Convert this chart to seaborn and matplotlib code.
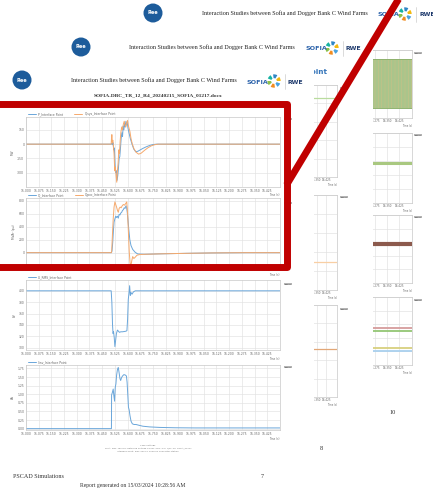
import numpy as np
import pandas as pd
import matplotlib
matplotlib.use("Agg")
import matplotlib.pyplot as plt
import matplotlib.patches as mpatches
from matplotlib.lines import Line2D
import seaborn as sns

# ---------------- data ----------------
xtick_labels = ["15.000", "15.075", "15.150", "15.225", "15.300", "15.375", "15.450",
                "15.525", "15.600", "15.675", "15.750", "15.825", "15.900", "15.975",
                "16.050", "16.125", "16.200", "16.275", "16.350", "16.425"]

# Panel 1: active / reactive power
p_t = [15.000, 15.503, 15.506, 15.510, 15.514, 15.518, 15.522, 15.526, 15.530, 15.534,
       15.538, 15.542, 15.546, 15.550, 15.554, 15.558, 15.562, 15.566, 15.570, 15.574,
       15.578, 15.582, 15.586, 15.590, 15.594, 15.598, 15.602, 15.608, 15.616, 15.626,
       15.636, 15.648, 15.660, 15.675, 15.690, 15.710, 15.730, 15.750, 15.770, 16.500]
p_v = [0, 0, 10, -5, 15, -60, -40, -220, -300, -280,
       -380, -330, -250, -150, -130, -40, 60, 120, 80, 190,
       150, 220, 180, 240, 200, 230, 170, 120, 60, 0,
       -50, -80, -75, -60, -45, -28, -14, -4, 0, 0]
qs_t = [15.000, 15.503, 15.505, 15.507, 15.510, 15.513, 15.516, 15.520, 15.524, 15.528,
        15.532, 15.536, 15.540, 15.544, 15.548, 15.552, 15.556, 15.560, 15.565, 15.570,
        15.575, 15.580, 15.585, 15.590, 15.595, 15.600, 15.604, 15.608, 15.614, 15.620,
        15.628, 15.638, 15.650, 15.665, 15.680, 15.700, 15.720, 15.740, 15.760, 15.780, 16.500]
qs_v = [0, 0, 60, 100, 20, 40, -20, -100, -280, -240,
        -330, -400, -280, -200, -60, -100, 30, 120, 180, 150,
        210, 240, 200, 180, 230, 250, 200, 170, 130, 60,
        0, -50, -85, -105, -95, -65, -38, -18, -6, 0, 0]

# Panel 2: reactive power
q_t = [15.000, 15.505, 15.508, 15.512, 15.516, 15.520, 15.525, 15.530, 15.535, 15.540,
       15.545, 15.550, 15.555, 15.560, 15.565, 15.570, 15.575, 15.580, 15.585, 15.590,
       15.594, 15.598, 15.603, 15.608, 15.613, 15.620, 15.630, 15.645, 15.660, 15.700,
       15.800, 15.950, 16.100, 16.300, 16.500]
q_v = [0, 0, 30, 150, 330, 470, 520, 560, 540, 560,
       530, 590, 580, 610, 620, 650, 660, 690, 680, 720,
       700, 620, 480, 330, 200, 110, 50, 5, -20, -25,
       -18, -10, -4, 0, 0]
qp_t = [15.000, 15.504, 15.506, 15.510, 15.515, 15.520, 15.525, 15.530, 15.535, 15.540,
        15.545, 15.550, 15.556, 15.562, 15.568, 15.575, 15.582, 15.590, 15.595, 15.600,
        15.605, 15.610, 15.615, 15.620, 15.625, 15.630, 15.637, 15.645, 15.655, 15.670,
        15.700, 15.800, 15.950, 16.100, 16.300, 16.500]
qp_v = [0, 0, 20, 250, 520, 700, 780, 740, 700, 650,
        620, 680, 700, 690, 720, 740, 730, 760, 780, 600,
        300, 0, -170, -190, -120, -60, -90, -70, -40, -30,
        -25, -18, -10, -4, 0, 0]

# Panel 3: RMS voltage
u_t = [15.000, 15.503, 15.507, 15.511, 15.514, 15.517, 15.521, 15.525, 15.529, 15.534,
       15.540, 15.546, 15.552, 15.560, 15.570, 15.590, 15.596, 15.600, 15.604, 15.608,
       15.612, 15.616, 15.620, 15.626, 15.634, 15.645, 16.500]
u_v = [400, 400, 380, 340, 325, 328, 318, 302, 312, 325,
       331, 329, 327, 328, 328, 329, 330, 350, 385, 395,
       409, 392, 397, 394, 398, 400, 400]

# Panel 4: current
i_t = [15.000, 15.5045, 15.5055, 15.510, 15.515, 15.519, 15.523, 15.527, 15.531, 15.535,
       15.540, 15.545, 15.550, 15.555, 15.559, 15.564, 15.570, 15.578, 15.586, 15.593,
       15.597, 15.601, 15.605, 15.609, 15.614, 15.620, 15.628, 15.638, 15.650, 15.665,
       15.690, 15.730, 15.790, 15.880, 16.000, 16.500]
i_v = [0, 0, 0.98, 1.05, 1.15, 0.95, 0.80, 1.20, 1.30, 1.55,
       1.72, 1.78, 1.62, 1.45, 1.40, 1.48, 1.53, 1.57, 1.56, 1.53,
       1.35, 1.00, 0.62, 0.55, 0.38, 0.22, 0.14, 0.12, 0.12, 0.10,
       0.07, 0.05, 0.035, 0.025, 0.02, 0.02]

# background pages: levels as a fraction of each small chart's height
mid_xticks = ["16.050", "16.125", "16.200", "16.275", "16.350", "16.425"]
mid_levels = [0.86, 0.295, 0.52]
mid_colors = ["#b9dc9e", "#f8cfa4", "#e2a777"]
back_xticks = ["16.050", "16.125", "16.200", "16.275", "16.350", "16.425"]
back_band = [0.147, 0.868]
back_c2_level = 0.571
back_c3_level = 0.574
back_c4_levels = [0.544, 0.50, 0.25, 0.206]
back_c4_colors = ["#d69c9c", "#93c674", "#d8d07e", "#a9d0ee"]

# ---------------- figure ----------------
W, H = 433, 491
sns.set_theme(style="whitegrid")
plt.rcParams["font.family"] = ["DejaVu Sans"]
plt.rcParams["hatch.linewidth"] = 0.35
fig = plt.figure(figsize=(W / 100, H / 100), dpi=100)
fig.patch.set_facecolor("white")


def fx(x):
    return x / W


def fy(y):
    return 1 - y / H


def rect(x0, y0, x1, y1):
    return [x0 / W, 1 - y1 / H, (x1 - x0) / W, (y1 - y0) / H]


def mk_df(series):
    frames = [pd.DataFrame({"t": t, "v": v, "s": name}) for name, t, v in series]
    return pd.concat(frames, ignore_index=True)


SERIF = ["Liberation Serif", "DejaVu Serif"]
BLUE = "#6aa6da"
ORANGE = "#f6a96c"


def tag(x, y, z=3):
    fig.text(fx(x), fy(y), "SOFIA", fontsize=1.7, color="#4a4a4a", ha="center", va="center",
             zorder=z, bbox=dict(boxstyle="square,pad=0.35", fc="#b4b4b4", ec="none"))


def header(cx_logo, cy, title_cx, sofia_x, z=3):
    logo = mpatches.Ellipse((fx(cx_logo), fy(cy)), 19 / W, 19 / H, transform=fig.transFigure,
                            fc="#1d5c9b", ec="none", zorder=z)
    fig.add_artist(logo)
    fig.text(fx(cx_logo), fy(cy), "Ree", fontsize=3.6, color="white", weight="bold",
             ha="center", va="center", zorder=z + 0.1)
    fig.text(fx(title_cx), fy(cy), "Interaction Studies between Sofia and Dogger Bank C Wind Farms",
             fontsize=4.4, family=SERIF, color="#222222", ha="center", va="center", zorder=z)
    fig.text(fx(sofia_x), fy(cy + 2), "SOFIA", fontsize=4.6, weight="bold", color="#2c63ab",
             ha="left", va="center", zorder=z)
    # pinwheel icon
    iax = fig.add_axes(rect(sofia_x + 20, cy - 6, sofia_x + 34, cy + 8))
    iax.set_zorder(z)
    iax.set_xlim(-1, 1)
    iax.set_ylim(-1, 1)
    iax.axis("off")
    cols = ["#f2b90f", "#2f86c6", "#17b3a3", "#8cc04b", "#f28c1f", "#4aa3df"]
    for k, c in enumerate(cols):
        iax.add_patch(mpatches.Wedge((0, 0), 0.95, k * 60, k * 60 + 38, width=0.55, fc=c, ec="none"))
    fig.add_artist(Line2D([fx(sofia_x + 38), fx(sofia_x + 38)], [fy(cy - 6), fy(cy + 9)],
                          transform=fig.transFigure, color="#cccccc", lw=0.5, zorder=z))
    fig.text(fx(sofia_x + 41), fy(cy + 2), "RWE", fontsize=4.4, weight="bold", color="#1e3a6d",
             ha="left", va="center", zorder=z)


def small_axes(box, xlim, xticks, z):
    ax = fig.add_axes(rect(*box))
    ax.set_zorder(z)
    ax.set_facecolor("white")
    ax.set_xlim(*xlim)
    ax.set_ylim(0, 1)
    ax.set_xticks([float(s) for s in xticks])
    ax.set_xticklabels(xticks)
    ax.set_yticks(np.linspace(0, 1, 6))
    ax.set_yticklabels([])
    ax.tick_params(labelsize=2.0, length=0, pad=1.0, colors="#666666")
    ax.grid(True, color="#e0e0e0", lw=0.45)
    for sp in ax.spines.values():
        sp.set_color("#c8c8c8")
        sp.set_linewidth(0.5)
    ax.set_xlabel("Time (s)", loc="right", fontsize=1.8, labelpad=0.6, color="#666666")
    ax.set_ylabel("")
    return ax


# ---------- back page (page 10) ----------
header(153, 13, 285, 378, z=0.2)
bxlim = (15.993, 16.506)
b1 = small_axes((330, 50, 412, 118), bxlim, back_xticks, 0)
b1.fill_between(list(bxlim), [back_band[0]] * 2, [back_band[1]] * 2, facecolor="#aac58b",
                edgecolor="#cdbf86", hatch="|||||", lw=0)
for lvl in back_band:
    sns.lineplot(x=list(bxlim), y=[lvl, lvl], ax=b1, color="#8fb26f", lw=0.7)
b2 = small_axes((330, 133, 412, 203), bxlim, back_xticks, 0)
sns.lineplot(x=list(bxlim), y=[back_c2_level] * 2, ax=b2, color="#a9c880", lw=2.2)
b3 = small_axes((330, 215, 412, 283), bxlim, back_xticks, 0)
sns.lineplot(x=list(bxlim), y=[back_c3_level] * 2, ax=b3, color="#8c5a4d", lw=3.0)
b4 = small_axes((330, 297, 412, 365), bxlim, back_xticks, 0)
for lvl, c in zip(back_c4_levels, back_c4_colors):
    sns.lineplot(x=list(bxlim), y=[lvl, lvl], ax=b4, color=c, lw=1.3)
for yy in (53, 135, 217, 300):
    tag(418, yy, z=0.2)
fig.text(fx(393), fy(413), "10", fontsize=4.6, family=SERIF, color="#333333", ha="center",
         va="center", zorder=0.2)

# ---------- middle page (page 8) ----------
fig.add_artist(mpatches.Rectangle((0, 0), fx(372.5), fy(30), transform=fig.transFigure,
                                  fc="white", ec="none", zorder=0.5))
header(81, 47, 212, 305, z=0.8)
fig.text(fx(326.5), fy(72), "Interface Point", fontsize=5.2, weight="bold", color="#3474b9",
         ha="right", va="center", zorder=0.8)
mxlim = (15.823, 16.51)
for (y0, y1), lvl, c in zip([(85, 177), (195, 290), (305, 397)], mid_levels, mid_colors):
    m = small_axes((250, y0, 337, y1), mxlim, mid_xticks, 1)
    sns.lineplot(x=list(mxlim), y=[lvl, lvl], ax=m, color=c, lw=0.9)
for yy in (88, 197, 309):
    tag(344, yy, z=1)
fig.text(fx(321), fy(449), "8", fontsize=4.6, family=SERIF, color="#333333", ha="center",
         va="center", zorder=1)

# ---------- front page (page 7) ----------
fig.add_artist(mpatches.Rectangle((0, 0), fx(314), fy(62), transform=fig.transFigure,
                                  fc="white", ec="none", zorder=2))
header(22, 80, 154, 247, z=3)
fig.text(fx(158), fy(95), "SOFIA-DBC_TR_12_R4_20240215_SOFIA_01217.docx", fontsize=3.9,
         family=SERIF, weight="bold", color="#333333", ha="center", va="center", zorder=3)

xt_pos = [float(s) for s in xtick_labels]


def front_panel(box, series, colors, ylim, yticks, yticklabels, ylabel):
    ax = fig.add_axes(rect(*box))
    ax.set_zorder(3)
    ax.set_facecolor("white")
    df = mk_df(series)
    sns.lineplot(data=df, x="t", y="v", hue="s", palette=colors, estimator=None, sort=False,
                 lw=0.7, ax=ax)
    ax.set_xlim(15.0, 16.5)
    ax.set_ylim(*ylim)
    ax.set_xticks(xt_pos)
    ax.set_xticklabels(xtick_labels)
    ax.set_yticks(yticks)
    ax.set_yticklabels(yticklabels)
    ax.tick_params(labelsize=2.2, length=0, pad=1.2, colors="#666666")
    ax.grid(True, color="#e2e2e2", lw=0.45)
    for sp in ax.spines.values():
        sp.set_color("#c8c8c8")
        sp.set_linewidth(0.5)
    ax.set_xlabel("Time (s)", loc="right", fontsize=1.9, labelpad=0.6, color="#666666")
    ax.set_ylabel(ylabel, fontsize=2.2, labelpad=1.5, color="#666666")
    leg = ax.legend(loc="lower left", bbox_to_anchor=(0.005, 1.0), ncol=2, frameon=False,
                    fontsize=2.2, handlelength=2.6, handletextpad=0.8, columnspacing=3.5,
                    borderpad=0.1, borderaxespad=0.15, labelcolor="#666666")
    for ln in leg.get_lines():
        ln.set_linewidth(0.7)
    return ax


front_panel((26, 117, 280, 187),
            [("P_Interface Point", p_t, p_v), ("Qsys_Interface Point", qs_t, qs_v)],
            [BLUE, ORANGE], (-450, 285), [-300, -150, 0, 150], ["-300", "-150", "0", "150"], "MW")
front_panel((26, 198, 280, 266),
            [("Q_Interface Point", q_t, q_v), ("Qpoc_Interface Point", qp_t, qp_v)],
            [BLUE, ORANGE], (-205, 840), [0, 200, 400, 600, 800], ["0", "200", "400", "600", "800"],
            "MVAr (pu)")
front_panel((26, 280, 280, 350), [("U_RMS_Interface Point", u_t, u_v)], [BLUE],
            (296, 419), [300, 320, 340, 360, 380, 400], ["300", "320", "340", "360", "380", "400"],
            "kV")
front_panel((26, 365, 280, 430), [("Iinv_Interface Point", i_t, i_v)], [BLUE],
            (-0.04, 1.85), [0, 0.25, 0.5, 0.75, 1.0, 1.25, 1.5, 1.75],
            ["0.00", "0.25", "0.50", "0.75", "1.00", "1.25", "1.50", "1.75"], "kA")
for yy in (119, 203, 284, 367):
    tag(288, yy, z=3)

fig.text(fx(148), fy(445), "Case Settings", fontsize=1.6, color="#777777", ha="center",
         va="center", zorder=3)
fig.text(fx(148), fy(448.5), "Fault: 3ph, 150 ms, Retained voltage 0.8 pu, SCR=3.2, X/R=10, SOFIA_01217",
         fontsize=1.6, color="#777777", ha="center", va="center", zorder=3)
fig.text(fx(148), fy(451.5), "Interface Point: DBC 220 kV Onshore Converter Station",
         fontsize=1.6, color="#777777", ha="center", va="center", zorder=3)
fig.text(fx(13), fy(476), "PSCAD Simulations", fontsize=4.4, family=SERIF, color="#333333",
         ha="left", va="center", zorder=3)
fig.text(fx(262), fy(476), "7", fontsize=4.4, family=SERIF, color="#333333", ha="center",
         va="center", zorder=3)
fig.text(fx(80), fy(485), "Report generated on 15/03/2024 10:28:56 AM", fontsize=4.1,
         family=SERIF, color="#333333", ha="left", va="center", zorder=3)

# ---------- red highlight (frame open to the left edge, plus diagonal) ----------
RED = "#c00000"
fig.add_artist(Line2D([fx(-30), fx(286.5), fx(286.5), fx(-30)],
                      [fy(103.5), fy(103.5), fy(266.5), fy(266.5)],
                      transform=fig.transFigure, color=RED, lw=5,
                      solid_joinstyle="round", solid_capstyle="butt", zorder=10))
fig.add_artist(Line2D([fx(401), fx(286.5)], [fy(-5), fy(185)], transform=fig.transFigure,
                      color=RED, lw=5, solid_capstyle="butt", zorder=10))

fig.savefig("out.png", dpi=100)
